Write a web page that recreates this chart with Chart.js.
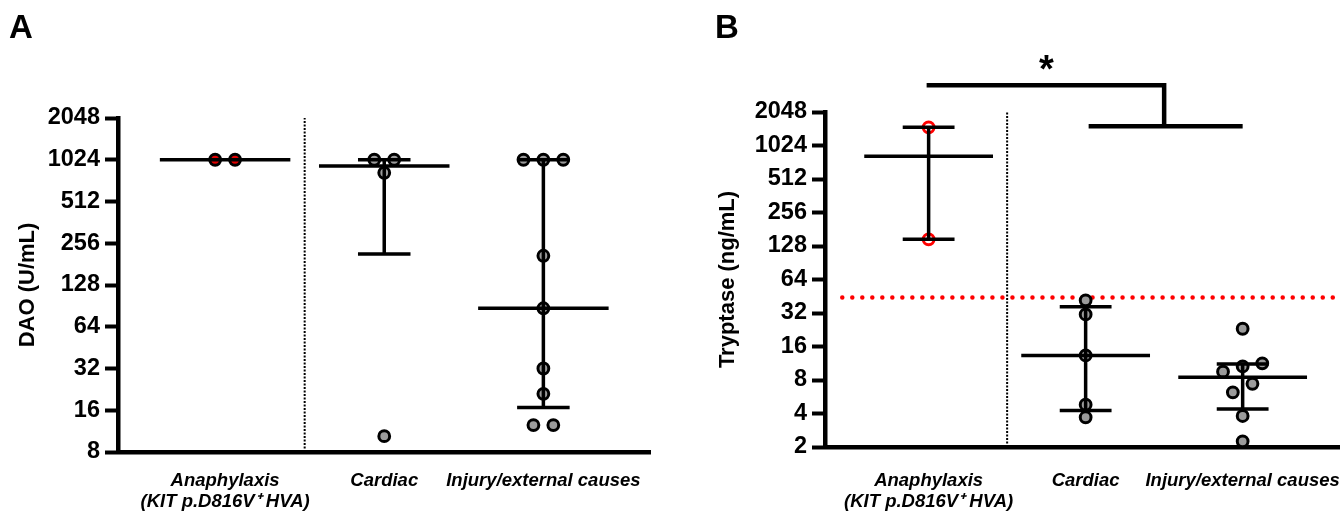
<!DOCTYPE html>
<html>
<head>
<meta charset="utf-8">
<script src="https://cdn.jsdelivr.net/npm/chart.js@4.4.0/dist/chart.umd.min.js"></script>
<style>
  html, body { margin: 0; padding: 0; background: #fff; width: 1340px; height: 511px; overflow: hidden; }
  canvas { position: absolute; top: 0; }
  #chartA { left: 0; }
  #chartB { left: 650px; }
  .panel { position: absolute; font: bold 33px "Liberation Sans", Arial, sans-serif; line-height: 33px; color: #000; }
</style>
</head>
<body>
<canvas id="chartA" width="670" height="511"></canvas>
<canvas id="chartB" width="720" height="511"></canvas>
<div class="panel" style="left:9px; top:10px">A</div>
<div class="panel" style="left:715px; top:10px">B</div>
<script>
// categories
const categories = [['Anaphylaxis', '(KIT p.D816V\u207A HVA)'], 'Cardiac', 'Injury/external causes'];

// panel A: DAO (U/mL)
const daoAnaphylaxis = [1024, 1024];
const daoCardiac = [1024, 1024, 825, 10.4];
const daoInjury = [1024, 1024, 1024, 208, 87, 32, 21, 12.5, 12.5];
const daoTicks = [8, 16, 32, 64, 128, 256, 512, 1024, 2048];
const daoTickLabels = ['8', '16', '32', '64', '128', '256', '512', '1024', '2048'];

// panel B: Tryptase (ng/mL)
const tryptaseAnaphylaxis = [1490, 147];
const tryptaseCardiac = [41.6, 31.1, 13.3, 4.8, 3.7];
const tryptaseInjury = [23.1, 11.3, 10.6, 9.5, 7.4, 6.2, 3.8, 2.25];
const tryptaseCutoff = 44;
const tryptaseTicks = [2, 4, 8, 16, 32, 64, 128, 256, 512, 1024, 2048];
const tryptaseTickLabels = ['2', '4', '8', '16', '32', '64', '128', '256', '512', '1024', '2048'];

const FONT = '"Liberation Sans", Arial, sans-serif';
const MEDIAN_HALF = 0.41;
const CAP_HALF = 0.165;
const JITTER_STEP = 0.125;
const JITTER_ROW = 0.3; // log2 units

// GraphPad style quantile, rank (n+1)p
function quantile(sorted, p) {
  const n = sorted.length;
  const r = (n + 1) * p;
  if (r <= 1) return sorted[0];
  if (r >= n) return sorted[n - 1];
  const lo = Math.floor(r), f = r - lo;
  return sorted[lo - 1] + f * (sorted[lo] - sorted[lo - 1]);
}

// spread points that overlap on the log axis
function jitter(vals) {
  const idx = vals.map((v, i) => i).sort((a, b) => vals[b] - vals[a]);
  const off = vals.map(() => 0);
  let row = [];
  const flush = () => {
    row.forEach((k, j) => { off[k] = ((row.length - 1) / 2 - j) * JITTER_STEP; });
    row = [];
  };
  idx.forEach(k => {
    if (row.length && Math.log2(vals[row[0]]) - Math.log2(vals[k]) > JITTER_ROW) flush();
    row.push(k);
  });
  flush();
  return off;
}

function buildDatasets(groups, fills, borders) {
  const sets = [];
  const seg = [];
  groups.forEach((vals, c) => {
    const off = jitter(vals);
    sets.push({
      type: 'scatter',
      data: vals.map((v, i) => ({ x: c + off[i], y: v })),
      backgroundColor: fills[c],
      borderColor: borders[c],
      borderWidth: 3,
      pointRadius: 5.4,
      order: 1,
      clip: false
    });
    const s = vals.slice().sort((a, b) => a - b);
    const med = quantile(s, 0.5), q1 = quantile(s, 0.25), q3 = quantile(s, 0.75);
    seg.push(
      { x: c - MEDIAN_HALF, y: med }, { x: c + MEDIAN_HALF, y: med }, { x: c, y: null },
      { x: c, y: q1 }, { x: c, y: q3 }, { x: c, y: null },
      { x: c - CAP_HALF, y: q1 }, { x: c + CAP_HALF, y: q1 }, { x: c, y: null },
      { x: c - CAP_HALF, y: q3 }, { x: c + CAP_HALF, y: q3 }, { x: c, y: null }
    );
  });
  sets.push({
    type: 'line', data: seg, borderColor: '#000', borderWidth: 3.5,
    pointRadius: 0, spanGaps: false, order: 0, clip: false
  });
  return sets;
}

function dividerSet(ticks) {
  return {
    type: 'line',
    data: [{ x: 0.5, y: ticks[0] }, { x: 0.5, y: ticks[ticks.length - 1] }],
    borderColor: '#000', borderWidth: 2, borderDash: [2, 1.5],
    pointRadius: 0, order: 2
  };
}

function options(cfg) {
  return {
    responsive: false,
    animation: false,
    events: [],
    layout: { padding: cfg.padding },
    plugins: { legend: { display: false }, tooltip: { enabled: false } },
    scales: {
      x: {
        type: 'linear', min: cfg.xMin, max: cfg.xMax,
        afterBuildTicks: s => { s.ticks = categories.map((c, i) => ({ value: i })); },
        afterFit: s => { s.height = cfg.xHeight; },
        ticks: {
          callback: v => categories[v],
          autoSkip: false, maxRotation: 0, color: '#000', padding: cfg.labelPad,
          font: { family: FONT, size: 18.5, weight: 'bold', style: 'italic', lineHeight: 1.1 }
        },
        grid: { display: false, drawTicks: false },
        border: { display: true, width: 4.5, color: '#000' }
      },
      y: {
        type: 'logarithmic', min: cfg.ticks[0], max: cfg.ticks[cfg.ticks.length - 1],
        afterBuildTicks: s => { s.ticks = cfg.ticks.map(v => ({ value: v })); },
        afterFit: s => { s.width = cfg.yWidth; },
        ticks: {
          callback: v => cfg.labels[cfg.ticks.indexOf(v)],
          autoSkip: false, color: '#000', padding: 5,
          font: { family: FONT, size: 23.5, weight: 'bold' }
        },
        grid: { drawOnChartArea: false, drawTicks: true, tickLength: 13, tickWidth: 4, tickColor: '#000' },
        border: { display: true, width: 4.5, color: '#000' },
        title: {
          display: true, text: cfg.title, color: '#000',
          font: { family: FONT, size: 22, weight: 'bold' },
          padding: { top: cfg.titlePad, bottom: 0 }
        }
      }
    }
  };
}

new Chart(document.getElementById('chartA'), {
  type: 'scatter',
  data: {
    datasets: buildDatasets(
      [daoAnaphylaxis, daoCardiac, daoInjury],
      ['#e00000', '#9b9b9b', '#9b9b9b'],
      ['#000', '#000', '#000']
    ).concat([dividerSet(daoTicks)])
  },
  options: options({
    padding: { top: 118, right: 20, left: 0, bottom: 0 },
    xMin: -0.673, xMax: 2.67, xHeight: 59, yWidth: 118, labelPad: 19,
    ticks: daoTicks, labels: daoTickLabels, title: 'DAO (U/mL)', titlePad: 15
  })
});

const bracketPlugin = {
  id: 'bracket',
  afterDraw(chart) {
    const { ctx, scales: { x, y } } = chart;
    const all = tryptaseAnaphylaxis.concat(tryptaseCardiac, tryptaseInjury);
    const yLow = y.getPixelForValue(Math.max(...all)) - 1;
    const yHigh = yLow - 41;
    const xa = x.getPixelForValue(0), xm = x.getPixelForValue(1.5);
    const xb = x.getPixelForValue(1), xc = x.getPixelForValue(2);
    ctx.save();
    ctx.strokeStyle = '#000';
    ctx.lineWidth = 4.5;
    ctx.beginPath();
    ctx.moveTo(xa - 2, yHigh); ctx.lineTo(xm, yHigh); ctx.lineTo(xm, yLow);
    ctx.stroke();
    ctx.beginPath();
    ctx.moveTo(xb + 3, yLow); ctx.lineTo(xc, yLow);
    ctx.stroke();
    ctx.fillStyle = '#000';
    ctx.font = 'bold 38px ' + FONT;
    ctx.textAlign = 'center';
    ctx.textBaseline = 'alphabetic';
    ctx.fillText('*', (xa + xm) / 2, yHigh - 3);
    ctx.restore();
  }
};

new Chart(document.getElementById('chartB'), {
  type: 'scatter',
  data: {
    datasets: buildDatasets(
      [tryptaseAnaphylaxis, tryptaseCardiac, tryptaseInjury],
      ['#ffffff', '#9b9b9b', '#9b9b9b'],
      ['#ff0000', '#000', '#000']
    ).concat([
      dividerSet(tryptaseTicks),
      {
        type: 'line',
        data: [{ x: -0.55, y: tryptaseCutoff }, { x: 2.62, y: tryptaseCutoff }],
        borderColor: '#ff0000', borderWidth: 4.5, borderDash: [0.01, 10], borderCapStyle: 'round',
        pointRadius: 0, order: 2
      }
    ])
  },
  options: options({
    padding: { top: 112, right: 30, left: 0, bottom: 0 },
    xMin: -0.66, xMax: 2.62, xHeight: 64, yWidth: 175, labelPad: 24,
    ticks: tryptaseTicks, labels: tryptaseTickLabels, title: 'Tryptase (ng/mL)', titlePad: 65
  }),
  plugins: [bracketPlugin]
});
</script>
</body>
</html>
